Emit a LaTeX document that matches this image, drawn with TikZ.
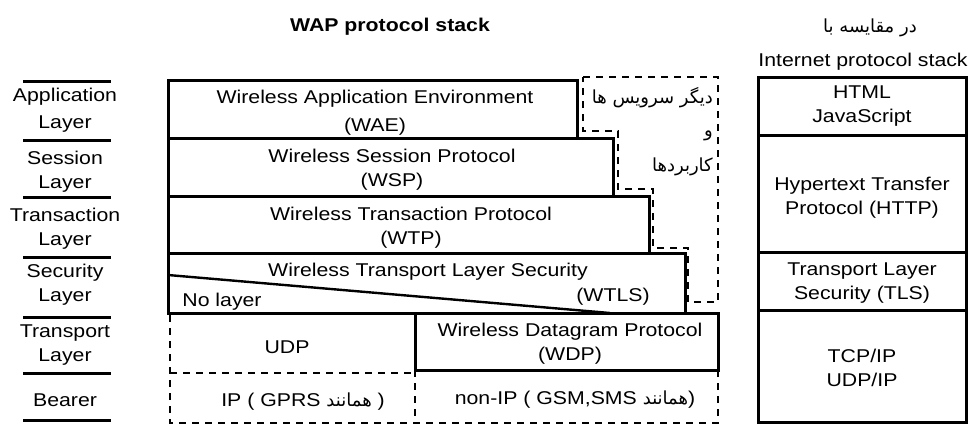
\documentclass[tikz,border=0pt]{standalone}
\usepackage{fontspec}
\setmainfont{Liberation Sans}[FakeStretch=1.15]
\newfontfamily\arabicfont[Script=Arabic]{DejaVu Sans}
\TeXXeTstate=1
\newcommand\lblfont{\fontsize{18.5}{24}\selectfont}
\newcommand\fafont{\arabicfont\fontsize{18}{20}\selectfont}
\newcommand\fa[1]{{\fafont\beginR #1\endR}}
\begin{document}
\begin{tikzpicture}[x=1pt,y=-1pt,
  lbl/.style={font=\lblfont, align=center, inner sep=0pt, text=black},
  solidbox/.style={draw=black, line width=3pt},
  sepline/.style={draw=black, line width=3pt},
  dashline/.style={draw=black, line width=2.4pt, dash pattern=on 7pt off 6pt}]
\useasboundingbox (0,0) rectangle (969,445);
% titles
\node[lbl, font=\lblfont\bfseries] (waptitle) at (390,27) {WAP protocol stack};
\node[lbl] (cmp) at (870,28) {\fa{در مقایسه با}};
\node[lbl] (inettitle) at (863,62) {Internet protocol stack};
% left layer labels
\foreach \y in {81,140,197,257,317,373,420} \draw[sepline] (23,\y) -- (111,\y);
\node[lbl] (lapp) at (65,110) {Application\\[3pt]Layer};
\node[lbl] (lses) at (65,171.5) {Session\\Layer};
\node[lbl] (ltra) at (65,228.5) {Transaction\\Layer};
\node[lbl] (lsec) at (65,285) {Security\\Layer};
\node[lbl] (ltrp) at (65,345) {Transport\\Layer};
\node[lbl] (lbea) at (65,400) {Bearer};
% WAP stack boxes
\draw[solidbox] (168,80) rectangle (577,138);
\draw[solidbox] (168,138) rectangle (613,196);
\draw[solidbox] (168,196) rectangle (649,253);
\draw[solidbox] (168,253) rectangle (685,313);
\draw[draw=black, line width=2.4pt] (168,275) -- (610,313);
\draw[solidbox] (415,313) rectangle (718,370);
\node[lbl] (wae) at (375,113) {Wireless Application Environment\\[4pt](WAE)};
\node[lbl] (wsp) at (392,170) {Wireless Session Protocol\\(WSP)};
\node[lbl] (wtp) at (411,228) {Wireless Transaction Protocol\\(WTP)};
\node[lbl] (wtls) at (428,272) {Wireless Transport Layer Security};
\node[lbl] (wtlsab) at (613,297) {(WTLS)};
\node[lbl] (nolayer) at (222,302) {No layer};
\node[lbl] (wdp) at (570,343.5) {Wireless Datagram Protocol\\(WDP)};
% dashed lower parts
\draw[dashline] (170,315) -- (170,423) -- (718,423) -- (718,370);
\draw[dashline] (170,373) -- (415,373);
\draw[dashline] (415,370) -- (415,423);
\node[lbl] (udp) at (287,347) {UDP};
\node[lbl] (ipgprs) at (303,402) {IP ( GPRS \fa{همانند} )};
\node[lbl] (nonip) at (575,400) {non-IP ( GSM,SMS \fa{همانند})};
% other services dashed region
\draw[dashline] (583,77) -- (718,77) -- (718,302) -- (688,302) -- (688,248)
  -- (653,248) -- (653,189) -- (618,189) -- (618,131) -- (583,131) -- cycle;
\node[lbl, anchor=east] (svc1) at (713,98) {\fa{دیگر سرویس ها}};
\node[lbl, anchor=east] (svc2) at (713,136) {\fa{و}};
\node[lbl, anchor=east] (svc3) at (713,167) {\fa{کاربردها}};
% Internet stack
\draw[solidbox] (758,77) rectangle (966,422);
\draw[sepline] (758,135) -- (966,135);
\draw[sepline] (758,252) -- (966,252);
\draw[sepline] (758,310) -- (966,310);
\node[lbl] (html) at (862,106.5) {HTML\\JavaScript};
\node[lbl] (http) at (862,197.5) {Hypertext Transfer\\Protocol (HTTP)};
\node[lbl] (tls) at (862,283.5) {Transport Layer\\Security (TLS)};
\node[lbl] (tcp) at (862,367.5) {TCP/IP\\UDP/IP};
\end{tikzpicture}
\end{document}
